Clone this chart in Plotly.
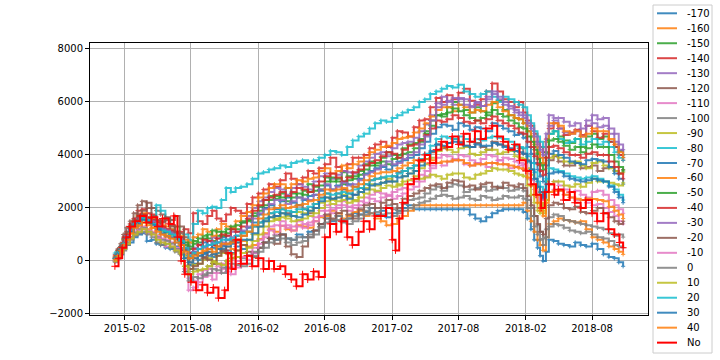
import plotly.graph_objects as go

DATES = [
    "2015-01-05", "2015-01-20", "2015-02-05", "2015-02-25", "2015-03-20", "2015-04-15", "2015-05-10",
    "2015-06-05", "2015-07-01", "2015-07-25", "2015-08-20", "2015-09-15", "2015-10-10", "2015-11-05",
    "2015-12-01",
    "2016-01-01", "2016-02-01", "2016-03-01", "2016-04-01", "2016-05-01", "2016-06-01", "2016-07-01",
    "2016-08-01", "2016-09-01", "2016-10-01", "2016-11-01", "2016-12-01",
    "2017-01-01", "2017-02-01", "2017-03-01", "2017-04-01", "2017-05-01", "2017-06-01", "2017-07-01",
    "2017-08-01", "2017-09-01", "2017-10-01", "2017-11-01", "2017-12-01",
    "2018-01-01", "2018-01-25", "2018-02-15", "2018-03-05", "2018-03-20", "2018-04-05", "2018-05-01",
    "2018-06-01", "2018-07-01", "2018-08-01", "2018-09-01", "2018-10-01", "2018-10-25",
]
DATES_MID = [
    "2015-01-12", "2015-01-28", "2015-02-15", "2015-03-08", "2015-04-02", "2015-04-28", "2015-05-23",
    "2015-06-18", "2015-07-13", "2015-08-07", "2015-09-02", "2015-09-28", "2015-10-23", "2015-11-18",
    "2015-12-16", "2016-01-16", "2016-02-15", "2016-03-16", "2016-04-16", "2016-05-16", "2016-06-16",
    "2016-07-16", "2016-08-16", "2016-09-16", "2016-10-16", "2016-11-16", "2016-12-16", "2017-01-16",
    "2017-02-15", "2017-03-16", "2017-04-16", "2017-05-16", "2017-06-16", "2017-07-16", "2017-08-16",
    "2017-09-16", "2017-10-16", "2017-11-16", "2017-12-16", "2018-01-13", "2018-02-05", "2018-02-24",
    "2018-03-12", "2018-03-28", "2018-04-18", "2018-05-16", "2018-06-16", "2018-07-16", "2018-08-16",
    "2018-09-16", "2018-10-13",
]

# values at DATES
S_M170 = [0, 250, 600, 900, 1050, 800, 600, 450, 300, -150, 50, 200, 300, 400, 550,
          200, 500, 850, 1000, 800, 900, 1150, 1600, 1700, 1600, 1750, 2000,
          1900, 1800, 2000, 1950, 1950, 1950, 1950, 1950, 1750, 1500, 1800, 1950,
          1950, 1850, 1200, 500, 0, 800, 650, 550, 600, 650, 250, 100, -200]
S_M160 = [50, 400, 800, 1250, 1450, 1250, 1000, 850, 600, -50, 200, 350, 450, 550, 700,
          550, 830, 1200, 1330, 1150, 1300, 1500, 1700, 1800, 1700, 1900, 1800,
          1500, 1400, 1700, 2100, 2100, 2100, 2100, 2100, 2100, 2100, 2100, 2100,
          2100, 2200, 1500, 800, 400, 1400, 1600, 1500, 1500, 900, 700, 450, 250]
S_M150 = [150, 500, 1000, 1450, 1750, 1550, 1300, 1150, 900, 450, 700, 850, 950, 1050, 1200,
          1550, 2050, 2450, 2550, 2550, 2650, 2800, 3150, 3100, 3200, 3400, 3750,
          3900, 4000, 4250, 4450, 4900, 5500, 5800, 5900, 5600, 5650, 5950, 5700,
          5400, 5200, 4700, 4050, 3650, 4800, 4700, 4450, 4300, 4800, 4700, 4300, 4000]
S_M140 = [200, 550, 1100, 1600, 1950, 1750, 1500, 1350, 1100, 1050, 1500, 1700, 1600, 1750, 1900,
          2150, 2550, 2900, 3050, 3100, 3150, 3300, 3650, 3550, 3650, 3900, 4250,
          4500, 4650, 4850, 5050, 5350, 6150, 6250, 6350, 6050, 6100, 6700, 6100,
          5800, 5600, 5100, 4500, 4100, 5000, 5000, 4850, 4750, 4900, 4800, 4300, 3800]
S_M130 = [100, 450, 950, 1450, 1700, 1500, 1250, 1100, 850, 300, 600, 750, 850, 950, 1100,
          1700, 2250, 2600, 2700, 2750, 2800, 3000, 3300, 3250, 3350, 3600, 3900,
          4100, 4250, 4450, 4650, 5150, 5950, 6050, 6150, 5850, 5850, 6300, 5900,
          5600, 5400, 4900, 4300, 3900, 5100, 5000, 4800, 4700, 5200, 5100, 4500, 3900]
S_M120 = [250, 650, 1250, 1800, 2250, 2000, 1750, 1550, 1300, 100, 300, 450, 550, 650, 800,
          1100, 1450, 1800, 1950, 1850, 1950, 2150, 2550, 2550, 2550, 2750, 3050,
          3150, 3200, 3400, 3600, 3850, 4400, 4450, 4500, 4300, 4300, 4500, 4350,
          4150, 4050, 3450, 2800, 2350, 3800, 3750, 3600, 3500, 3600, 3500, 3400, 3450]
S_M110 = [0, 300, 700, 1100, 1300, 1100, 850, 700, 450, -1100, -800, -550, -450, -400, -250,
          50, 650, 1150, 1330, 1150, 1250, 1500, 1900, 2000, 1900, 2100, 2350,
          2400, 2350, 2550, 2800, 3200, 3700, 3750, 3800, 3600, 3650, 3700, 3650,
          3550, 3450, 2850, 2200, 2000, 2600, 2650, 2400, 2300, 2100, 2000, 1700, 1400]
S_M100 = [0, 300, 700, 1050, 1250, 1050, 800, 650, 400, -500, -350, -200, -100, 0, 150,
          200, 500, 850, 1000, 800, 900, 1150, 1600, 1700, 1600, 1750, 2000,
          2000, 1950, 2150, 2350, 2550, 2800, 2800, 2850, 2700, 2800, 2700, 2750,
          2700, 2650, 2000, 1350, 850, 1650, 1700, 1500, 1400, 1300, 1200, 950, 900]
S_M90 = [100, 450, 900, 1350, 1600, 1400, 1150, 1000, 750, -300, -100, 100, 200, 300, 400,
         800, 1300, 1650, 1800, 1700, 1800, 2000, 2400, 2400, 2400, 2600, 2900,
         2950, 3000, 3200, 3400, 3650, 4150, 4200, 4250, 4050, 4100, 4200, 4100,
         3950, 3850, 3250, 2600, 1900, 3900, 3900, 3700, 3600, 3700, 3600, 3400, 3350]
S_M80 = [300, 550, 1000, 1400, 1700, 1600, 1900, 1200, 900, 800, 1900, 2000, 2000, 2750, 2750,
         2900, 3300, 3450, 3600, 3700, 3800, 3800, 4000, 4100, 4300, 4700, 5000,
         5300, 5400, 5600, 5800, 6100, 6400, 6600, 6650, 6300, 6300, 6200, 6200,
         6000, 5800, 5200, 4700, 4300, 4800, 4600, 4500, 4400, 4600, 4500, 4100, 3800]
S_M70 = [100, 450, 950, 1400, 1650, 1450, 1200, 1050, 800, 200, 450, 600, 700, 800, 950,
         1250, 1750, 2100, 2250, 2200, 2300, 2500, 2850, 2850, 2900, 3100, 3400,
         3550, 3600, 3800, 4000, 4500, 5050, 5100, 5200, 4950, 5000, 5200, 5000,
         4750, 4650, 4050, 3450, 3000, 4050, 4000, 3750, 3650, 3850, 3750, 3300, 2900]
S_M60 = [150, 500, 1000, 1500, 1800, 1600, 1350, 1200, 950, 700, 1000, 1100, 1200, 1300, 1500,
         1850, 2400, 2750, 2900, 2900, 3000, 3150, 3500, 3400, 3500, 3750, 4100,
         4300, 4450, 4650, 4850, 5200, 5700, 5800, 5900, 5600, 5650, 6000, 5650,
         5400, 5200, 4700, 4100, 3700, 5200, 5100, 4800, 4700, 5000, 4900, 4400, 3900]
S_M50 = [100, 450, 900, 1350, 1600, 1400, 1150, 1000, 750, 550, 850, 1000, 1100, 1200, 1350,
         1500, 1900, 2300, 2400, 2400, 2500, 2650, 3000, 3000, 3050, 3250, 3600,
         3750, 3850, 4050, 4250, 4800, 5500, 5600, 5650, 5400, 5400, 5700, 5450,
         5200, 5000, 4500, 3850, 3450, 4550, 4500, 4200, 4100, 4400, 4300, 3750, 3400]
S_M40 = [100, 500, 1000, 1450, 1750, 1550, 1300, 1150, 900, 300, 600, 750, 850, 950, 1100,
         1600, 2100, 2400, 2600, 2600, 2700, 2850, 3200, 3150, 3150, 3450, 3700,
         3950, 4050, 4200, 4400, 4750, 5300, 5350, 5400, 5200, 5200, 5450, 5200,
         5000, 4800, 4300, 3650, 3250, 4300, 4250, 4000, 3900, 4100, 4000, 3550, 3100]
S_M30 = [100, 450, 950, 1400, 1700, 1500, 1200, 1050, 800, 200, 450, 600, 700, 800, 950,
         1300, 1800, 2150, 2300, 2250, 2350, 2500, 2900, 2800, 2850, 3050, 3350,
         3600, 3650, 3850, 4100, 4700, 5800, 6000, 6100, 5800, 5850, 6400, 6000,
         5700, 5500, 5000, 4400, 4000, 5500, 5400, 5100, 5000, 5500, 5400, 4800, 4200]
S_M20 = [150, 550, 1050, 1550, 1900, 1700, 1450, 1300, 1050, -300, -100, 50, 200, 300, 400,
         350, 500, 850, 1000, 250, 550, 1150, 1750, 1800, 1750, 1950, 2150,
         2200, 2150, 2350, 2550, 2750, 2900, 2950, 3000, 2850, 2900, 2800, 2950,
         2800, 2750, 2100, 1400, 1000, 2100, 2150, 1950, 1850, 1900, 1800, 1500, 1500]
S_M10 = [0, 300, 650, 1000, 1200, 1000, 700, 550, 300, -650, -500, -300, -200, -100, 0,
         200, 800, 1300, 1500, 1300, 1400, 1650, 2100, 2100, 2050, 2250, 2500,
         2550, 2600, 2750, 3000, 3400, 3900, 3950, 4000, 3800, 3850, 3950, 3900,
         3750, 3650, 3050, 2400, 2400, 2900, 2850, 2600, 2500, 2600, 2500, 2100, 1800]
S_Z0 = [-50, 250, 600, 950, 1100, 900, 600, 500, 250, -750, -650, -450, -350, -250, -150,
        -100, 350, 700, 850, 600, 750, 1000, 1450, 1550, 1400, 1600, 1800,
        1750, 1700, 1900, 2100, 2250, 2450, 2450, 2400, 2350, 2450, 2300, 2450,
        2400, 2350, 1700, 1000, 600, 1300, 1350, 1150, 1050, 1000, 850, 600, 500]
S_P10 = [0, 300, 650, 1000, 1200, 1000, 700, 550, 300, -500, -350, -200, -100, 0, 150,
         500, 1000, 1500, 1650, 1500, 1600, 1800, 2250, 2250, 2200, 2400, 2700,
         2750, 2800, 3000, 3200, 3150, 3200, 3250, 3300, 3100, 3300, 3500, 3450,
         3300, 3200, 2500, 1900, 1800, 2900, 3000, 2800, 2800, 3100, 3000, 2900, 2950]
S_P20 = [100, 450, 900, 1350, 1600, 1400, 1150, 1000, 750, 200, 450, 600, 700, 800, 950,
         1100, 1450, 1800, 1950, 1850, 1950, 2150, 2550, 2550, 2550, 2750, 3050,
         3150, 3200, 3400, 3600, 4050, 4600, 4650, 4700, 4500, 4550, 4700, 4600,
         4350, 4250, 3700, 3000, 2600, 3500, 3400, 3200, 3100, 3200, 3000, 2700, 2300]
S_P30 = [80, 430, 850, 1300, 1550, 1350, 1050, 900, 650, -50, 200, 350, 450, 550, 700,
         800, 1300, 1650, 1800, 1700, 1750, 2000, 2400, 2400, 2350, 2600, 2850,
         2950, 3000, 3200, 3400, 3850, 4400, 4450, 4450, 4300, 4350, 4450, 4300,
         4150, 4050, 3450, 2800, 2400, 3300, 3350, 3100, 3000, 3100, 3000, 2600, 2200]
S_P40 = [50, 400, 800, 1250, 1450, 1250, 1000, 850, 600, 100, 300, 450, 550, 650, 800,
         1100, 1600, 1950, 2100, 2050, 2150, 2300, 2700, 2700, 2650, 2900, 3200,
         3350, 3400, 3600, 3800, 3850, 3700, 3750, 3800, 3600, 3650, 3700, 3650,
         3550, 3450, 2850, 2200, 1700, 2600, 2650, 2400, 2300, 2340, 2250, 1900, 1600]

# values at DATES_MID
M_M170 = [100, 450, 700, 1000, 750, 650, 500, 550, 100, -100, 250, 150, 450, 300, 450,
          300, 700, 800, 850, 1000, 1100, 1400, 1500, 1500, 1800, 1850, 1750, 1650, 1900, 2100,
          1950, 1950, 1950, 1950, 1950, 1600, 1650, 1900, 1950, 1950, 1600, 800, 200, 350, 750,
          600, 700, 550, 450, 150, -50]
M_M160 = [250, 550, 1100, 1300, 1200, 1150, 900, 800, 250, 100, 350, 250, 600, 450, 750,
          600, 1050, 1100, 1200, 1350, 1250, 1650, 1900, 1600, 1850, 1700, 1600, 1350, 1600, 1900,
          2100, 2100, 2100, 2100, 2100, 2100, 2100, 2100, 2100, 2100, 1900, 1100, 600, 900, 1500,
          1550, 1450, 1200, 800, 550, 350]
M_M150 = [350, 800, 1250, 1700, 1500, 1500, 1100, 1300, 600, 650, 950, 750, 1100, 1200, 1500,
          1800, 2300, 2350, 2750, 2400, 2900, 2700, 3000, 3350, 3100, 3650, 3600, 4100, 3900, 4400,
          4600, 5300, 5550, 6000, 5700, 5800, 5500, 6050, 5500, 5350, 4900, 4300, 3700, 4300, 4900,
          4550, 4600, 4700, 4600, 4500, 4150]
M_M140 = [400, 900, 1400, 1900, 1800, 1500, 1600, 1100, 1200, 1800, 1400, 1900, 1500, 2000, 1800,
          2400, 2700, 2800, 3300, 2900, 3400, 3500, 3900, 3400, 3900, 4000, 4400, 4300, 4900, 4700,
          5300, 5800, 6000, 6100, 6500, 5900, 6400, 6400, 6000, 6000, 5300, 4800, 4300, 4600, 5200,
          4750, 4950, 5100, 4650, 4500, 4000]
M_M130 = [250, 700, 1300, 1550, 1650, 1350, 1200, 950, 700, 500, 550, 900, 700, 1100, 1450,
          2000, 2400, 2750, 2500, 2900, 2700, 3200, 3100, 3400, 3300, 3750, 4050, 3950, 4400, 4500,
          4900, 5500, 6200, 5900, 6100, 6000, 6200, 6100, 5750, 5500, 5100, 4500, 4100, 4500, 5300,
          4850, 4900, 5100, 5050, 4800, 4200]
M_M120 = [450, 1000, 1500, 2100, 2000, 1900, 1550, 1700, 900, 250, 150, 600, 400, 750, 950,
          1300, 1600, 1700, 1800, 2100, 1800, 2400, 2350, 2700, 2500, 2900, 3100, 3000, 3350, 3500,
          3750, 4100, 4250, 4600, 4350, 4450, 4200, 4400, 4200, 4250, 3800, 3100, 2500, 3000, 3950,
          3600, 3700, 3550, 3400, 3550, 3300]
M_M110 = [150, 500, 900, 1200, 1150, 950, 800, 500, -400, -1000, -600, -700, -300, -500, -100,
          300, 900, 1000, 1250, 1300, 1350, 1700, 1800, 2100, 2000, 2200, 2250, 2500, 2450, 2700,
          3000, 3500, 3600, 3850, 3650, 3700, 3550, 3800, 3500, 3600, 3100, 2500, 2000, 2300, 2700,
          2500, 2300, 2200, 2150, 1850, 1500]
M_M100 = [100, 450, 900, 1200, 1100, 900, 750, 450, -200, -300, -500, -100, -250, 100, 100,
          350, 700, 950, 850, 900, 1000, 1300, 1550, 1550, 1700, 1900, 1850, 2100, 1900, 2300,
          2400, 2700, 2650, 2900, 2600, 2750, 2650, 2800, 2650, 2750, 2300, 1700, 1100, 1200, 1750,
          1550, 1450, 1350, 1250, 1050, 1000]
M_M90 = [300, 700, 1150, 1500, 1450, 1300, 1050, 850, 200, -150, 50, 0, 300, 250, 600,
         1000, 1500, 1600, 1700, 1850, 1900, 2200, 2300, 2500, 2300, 2750, 2850, 3100, 2900, 3300,
         3500, 3900, 4300, 4100, 4300, 4000, 4200, 4050, 4150, 3900, 3500, 2900, 2200, 3000, 4000,
         3750, 3750, 3500, 3750, 3500, 3300]
M_M80 = [350, 800, 1200, 1650, 1500, 2100, 1600, 1000, 1000, 1400, 1800, 2050, 2300, 2600, 2800,
         3100, 3350, 3500, 3550, 3750, 3700, 3900, 4150, 4000, 4550, 4800, 5200, 5250, 5500, 5700,
         6000, 6300, 6500, 6550, 6400, 6200, 6400, 6000, 6100, 5900, 5500, 4900, 4500, 4500, 4900,
         4450, 4600, 4500, 4400, 4300, 3900]
M_M70 = [250, 650, 1200, 1500, 1550, 1300, 1100, 900, 450, 350, 700, 500, 900, 700, 1100,
         1450, 2000, 1950, 2400, 2100, 2450, 2650, 2700, 3000, 2800, 3300, 3500, 3450, 3750, 3900,
         4250, 4800, 5150, 4950, 5100, 5050, 4900, 5100, 4900, 4800, 4300, 3700, 3200, 3600, 4150,
         3900, 3700, 3800, 3800, 3550, 3100]
M_M60 = [300, 800, 1300, 1700, 1650, 1450, 1300, 1050, 800, 900, 1200, 950, 1400, 1250, 1700,
         2100, 2550, 2900, 2750, 3050, 3100, 3400, 3300, 3600, 3650, 3900, 4200, 4350, 4600, 4700,
         5000, 5450, 5800, 5650, 5800, 5700, 5900, 5800, 5500, 5350, 4900, 4400, 3900, 4500, 5200,
         4900, 4900, 4800, 4900, 4600, 4100]
M_M50 = [200, 650, 1100, 1550, 1450, 1250, 1100, 850, 700, 750, 850, 1150, 950, 1300, 1450,
         1700, 2100, 2450, 2250, 2550, 2600, 2850, 3150, 2900, 3200, 3450, 3700, 3650, 4000, 4100,
         4500, 5100, 5450, 5750, 5500, 5300, 5600, 5550, 5300, 5050, 4700, 4200, 3600, 4100, 4600,
         4350, 4300, 4250, 4300, 4000, 3550]
M_M40 = [300, 700, 1250, 1650, 1600, 1450, 1200, 1050, 500, 450, 800, 600, 1000, 1200, 1300,
         1900, 2300, 2500, 2450, 2750, 2600, 3000, 3300, 3000, 3350, 3600, 3800, 4100, 3900, 4350,
         4550, 5000, 5250, 5500, 5250, 5300, 5350, 5300, 5100, 4850, 4500, 3950, 3400, 3900, 4350,
         4100, 4000, 4050, 4000, 3750, 3300]
M_M30 = [250, 750, 1150, 1600, 1550, 1350, 1150, 900, 400, 350, 500, 700, 600, 900, 1150,
         1600, 1950, 2300, 2150, 2400, 2300, 2700, 2700, 2950, 2900, 3250, 3450, 3750, 3700, 4000,
         4400, 5300, 5900, 6150, 5900, 5950, 6100, 6200, 5850, 5600, 5200, 4700, 4200, 4800, 5400,
         5250, 5200, 5300, 5350, 5000, 4400]
M_M20 = [400, 850, 1350, 1750, 2200, 1550, 1650, 1100, 400, -200, 100, -100, 350, 100, 600,
         150, 700, 650, 550, 150, 900, 1400, 1600, 1900, 1600, 2100, 2000, 2300, 2000, 2450,
         2650, 2850, 2750, 3050, 2800, 2700, 2950, 2750, 2850, 2900, 2450, 1700, 1100, 1600, 2200,
         2000, 2050, 1800, 2000, 1650, 1400]
M_M10 = [100, 500, 850, 1150, 1050, 850, 550, 400, -300, -750, -350, -450, -100, -250, 150,
         500, 1000, 1350, 1350, 1500, 1450, 1900, 1950, 2250, 2100, 2400, 2600, 2450, 2700, 2900,
         3250, 3600, 4000, 3800, 3950, 3700, 4000, 3800, 3850, 3700, 3300, 2700, 2300, 2650, 3000,
         2700, 2650, 2400, 2650, 2300, 1950]
M_Z0 = [100, 400, 800, 1050, 1000, 700, 650, 350, -400, -600, -550, -300, -450, -100, -200,
        200, 500, 800, 700, 700, 900, 1250, 1400, 1450, 1500, 1750, 1700, 1800, 1800, 2000,
        2200, 2350, 2500, 2350, 2450, 2300, 2400, 2350, 2400, 2450, 2000, 1300, 800, 900, 1400,
        1250, 1100, 1100, 900, 750, 550]
M_P10 = [150, 450, 850, 1100, 1100, 800, 650, 400, -200, -400, -300, -50, -150, 100, 300,
         750, 1300, 1550, 1600, 1550, 1700, 2000, 2150, 2300, 2250, 2550, 2650, 2850, 2850, 3050,
         3100, 3250, 3100, 3300, 3150, 3250, 3400, 3450, 3400, 3250, 2850, 2200, 1800, 2300, 3000,
         2850, 2900, 2950, 3000, 2950, 2850]
M_P20 = [300, 650, 1100, 1450, 1550, 1250, 1100, 850, 500, 300, 550, 650, 800, 850, 1050,
         1300, 1600, 1850, 1900, 1950, 2050, 2350, 2500, 2600, 2700, 2900, 3100, 3200, 3300, 3500,
         3850, 4350, 4700, 4600, 4600, 4600, 4650, 4650, 4500, 4300, 3950, 3350, 2800, 3100, 3450,
         3300, 3150, 3150, 3100, 2850, 2500]
M_P30 = [250, 600, 1100, 1400, 1450, 1200, 950, 700, 100, 100, 300, 250, 550, 650, 800,
         1050, 1500, 1700, 1750, 1650, 1900, 2250, 2350, 2450, 2500, 2700, 2900, 3000, 3150, 3300,
         3600, 4150, 4350, 4500, 4350, 4400, 4350, 4400, 4250, 4100, 3750, 3100, 2600, 2900, 3350,
         3200, 3050, 3050, 3050, 2800, 2400]
M_P40 = [200, 600, 1050, 1350, 1350, 1100, 950, 700, 350, 200, 400, 350, 650, 700, 950,
         1350, 1750, 2000, 2000, 2100, 2250, 2500, 2650, 2750, 2800, 3050, 3300, 3350, 3500, 3700,
         3750, 3800, 3750, 3800, 3700, 3650, 3700, 3650, 3600, 3500, 3150, 2500, 1900, 2200, 2650,
         2500, 2350, 2350, 2300, 2050, 1750]

SERIES_NAMES = ["-170", "-160", "-150", "-140", "-130", "-120", "-110", "-100", "-90", "-80",
                "-70", "-60", "-50", "-40", "-30", "-20", "-10", "0", "10", "20", "30", "40"]
SERIES_VALUES = [S_M170, S_M160, S_M150, S_M140, S_M130, S_M120, S_M110, S_M100, S_M90, S_M80,
                 S_M70, S_M60, S_M50, S_M40, S_M30, S_M20, S_M10, S_Z0, S_P10, S_P20, S_P30, S_P40]
SERIES_MID = [M_M170, M_M160, M_M150, M_M140, M_M130, M_M120, M_M110, M_M100, M_M90, M_M80,
              M_M70, M_M60, M_M50, M_M40, M_M30, M_M20, M_M10, M_Z0, M_P10, M_P20, M_P30, M_P40]

NO_DATES = [
    "2015-01-05", "2015-01-15", "2015-01-25", "2015-02-05", "2015-02-15", "2015-03-01", "2015-03-15",
    "2015-04-01", "2015-04-15", "2015-05-01", "2015-05-15", "2015-06-01", "2015-06-15", "2015-06-25",
    "2015-07-05", "2015-07-15", "2015-08-01", "2015-08-15", "2015-09-01", "2015-09-15", "2015-10-01",
    "2015-10-15", "2015-11-01", "2015-11-10", "2015-11-20", "2015-12-01", "2015-12-15", "2016-01-01",
    "2016-01-15", "2016-02-01", "2016-02-15", "2016-03-01", "2016-03-15", "2016-04-01", "2016-04-15",
    "2016-05-01", "2016-05-15", "2016-06-01", "2016-06-15", "2016-07-01", "2016-07-15", "2016-08-01",
    "2016-08-15", "2016-09-01", "2016-09-15", "2016-10-01", "2016-10-15", "2016-11-01", "2016-11-15",
    "2016-12-01", "2016-12-15", "2017-01-01", "2017-01-15", "2017-02-01", "2017-02-10", "2017-02-20",
    "2017-03-01", "2017-03-15", "2017-04-01", "2017-04-15", "2017-05-01", "2017-05-15", "2017-06-01",
    "2017-06-15", "2017-07-01", "2017-07-15", "2017-08-01", "2017-08-15", "2017-09-01", "2017-09-15",
    "2017-10-01", "2017-10-15", "2017-11-01", "2017-11-15", "2017-12-01", "2017-12-15", "2018-01-01",
    "2018-01-15", "2018-02-01", "2018-02-15", "2018-03-01", "2018-03-15", "2018-03-25", "2018-04-05",
    "2018-04-20", "2018-05-01", "2018-05-15", "2018-06-01", "2018-06-15", "2018-07-01", "2018-07-15",
    "2018-08-01", "2018-08-15", "2018-09-01", "2018-09-15", "2018-10-01", "2018-10-15", "2018-10-25",
]
NO_VALUES = [
    -200, 100, 500, 900, 1300, 1500, 1700,
    1450, 1650, 1300, 1600, 1400, 1700, 900,
    0, -500, -800, -1100, -900, -1200, -1000,
    -1400, -1100, 300, -300, 800, -100, 200,
    -200, 100, -300, 0, -300, -200, -500,
    -700, -950, -500, -700, -400, -600, 900,
    1400, 1100, 1500, 900, 600, 1100, 1500,
    1200, 1700, 1700, 2000, 800, 400, 1600,
    2200, 2900, 3100, 3800, 4000, 3700, 4200,
    4500, 4300, 4700, 4400, 4800, 4500, 4900,
    4600, 5000, 5100, 4700, 4500, 4200, 4400,
    3800, 3400, 2900, 2500, 2000, 2600, 2900,
    2500, 2700, 2300, 2600, 2200, 2000, 2300,
    1800, 1500, 1800, 1200, 1000, 700, 500,
]

X_TICKS = ["2015-02-01", "2015-08-01", "2016-02-01", "2016-08-01", "2017-02-01",
           "2017-08-01", "2018-02-01", "2018-08-01"]
Y_TICKS = [-2000, 0, 2000, 4000, 6000, 8000]

TAB10 = ["#1f77b4", "#ff7f0e", "#2ca02c", "#d62728", "#9467bd",
         "#8c564b", "#e377c2", "#7f7f7f", "#bcbd22", "#17becf"]
FONT = "DejaVu Sans"
LW = 2.0


def merge(main, mid):
    out = []
    for a, b in zip(main, mid):
        out += [a, b]
    out.append(main[-1])
    return out


ALL_DATES = merge(DATES, DATES_MID)

fig = go.Figure()
for i, (name, vals, mids) in enumerate(zip(SERIES_NAMES, SERIES_VALUES, SERIES_MID)):
    col = TAB10[i % 10]
    fig.add_trace(go.Scatter(
        x=ALL_DATES, y=merge(vals, mids), name=name, mode="lines+markers",
        line=dict(color=col, width=LW, shape="hv"),
        marker=dict(symbol="cross-thin", size=3, line=dict(width=1, color=col)),
        opacity=0.85, showlegend=False))
fig.add_trace(go.Scatter(
    x=NO_DATES, y=NO_VALUES, name="No", mode="lines+markers",
    line=dict(color="#ff0000", width=LW, shape="hv"),
    marker=dict(symbol="cross-thin", size=5, line=dict(width=1, color="#ff0000")),
    showlegend=False))

# plot area in pixels
L, R, T, B = 90, 648, 43, 315


def xp(px):
    return (px - L) / (R - L)


def yp(py):
    return (B - py) / (B - T)


shapes = [dict(type="rect", xref="paper", yref="paper",
               x0=xp(653), x1=xp(712), y0=yp(5), y1=yp(353),
               line=dict(color="#cccccc", width=1), fillcolor="rgba(255,255,255,0.8)")]
annotations = []
legend_names = SERIES_NAMES + ["No"]
legend_colors = [TAB10[i % 10] for i in range(len(SERIES_NAMES))] + ["#ff0000"]
for i, (name, col) in enumerate(zip(legend_names, legend_colors)):
    y = 13.3 + i * 14.97
    shapes.append(dict(type="line", xref="paper", yref="paper",
                       x0=xp(657), x1=xp(677), y0=yp(y), y1=yp(y),
                       line=dict(color=col, width=LW), opacity=0.85 if name != "No" else 1))
    annotations.append(dict(xref="paper", yref="paper", x=xp(685), y=yp(y),
                            text=name, showarrow=False, xanchor="left", yanchor="middle",
                            font=dict(family=FONT, size=10, color="#000000")))

fig.update_layout(
    width=720, height=360,
    margin=dict(l=L, r=720 - R, t=T, b=360 - B, pad=0),
    paper_bgcolor="white", plot_bgcolor="white",
    font=dict(family=FONT, size=10, color="#000000"),
    shapes=shapes, annotations=annotations,
    xaxis=dict(type="date", range=["2014-10-29", "2019-01-01"],
               tickvals=X_TICKS, tickformat="%Y-%m",
               showgrid=True, gridcolor="#b0b0b0", gridwidth=0.8,
               showline=True, linecolor="#000000", linewidth=1, mirror=True,
               ticks="outside", ticklen=4, tickcolor="#000000",
               tickfont=dict(family=FONT, size=10), zeroline=False),
    yaxis=dict(range=[-2038, 8226], tickvals=Y_TICKS,
               showgrid=True, gridcolor="#b0b0b0", gridwidth=0.8,
               showline=True, linecolor="#000000", linewidth=1, mirror=True,
               ticks="outside", ticklen=4, tickcolor="#000000",
               tickfont=dict(family=FONT, size=10), zeroline=False),
)

fig.write_html("out.html")
